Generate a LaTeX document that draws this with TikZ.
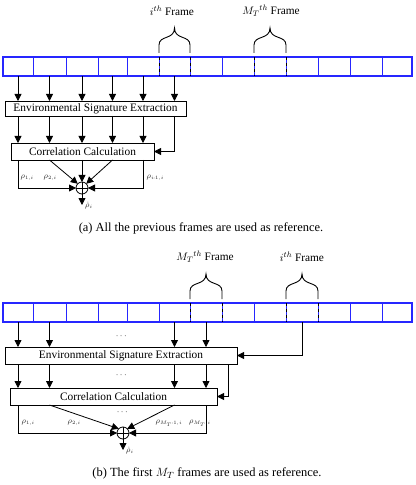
\documentclass[tikz,border=0pt]{standalone}
\usepackage{fontspec}
\setmainfont{Liberation Serif}
\usepackage{amsmath}
\usepackage{tikz}
\usetikzlibrary{arrows.meta,positioning,calc}

\newcommand{\boxfont}{\fontsize{11.4}{13}\selectfont}
\newcommand{\capfont}{\fontsize{12.5}{15}\selectfont}
\newcommand{\corr}[1]{$\rho_{\scriptscriptstyle #1}$}

\tikzset{
  cell/.style={draw=blue!85, line width=0.8bp, minimum height=19bp, inner sep=0pt, outer sep=0pt, anchor=west},
  stripedge/.style={draw=blue!85, line width=1.6bp},
  procbox/.style={draw, line width=0.9bp, inner sep=0pt, outer sep=0pt, font=\boxfont},
  arr/.style={-{Triangle[length=7bp,width=7bp]}, line width=0.8bp},
  sumnode/.style={draw, circle, minimum size=12bp, inner sep=0pt, outer sep=0pt, line width=0.8bp},
  rholabel/.style={font=\fontsize{8.5}{9}\selectfont, text=black!85, inner sep=0.5bp, anchor=west},
  dotlabel/.style={font=\fontsize{9}{9}\selectfont, inner sep=0pt},
  bracestyle/.style={line width=0.9bp},
}

% curly brace over a frame cell
\newcommand{\framebrace}[1]{%
  \draw[bracestyle] ([yshift=4bp]#1.north west) -- ([yshift=12bp]#1.north west)
    .. controls ([yshift=22bp]#1.north west) and ([yshift=17bp]#1.north) .. ([yshift=29bp]#1.north)
    .. controls ([yshift=17bp]#1.north) and ([yshift=22bp]#1.north east) .. ([yshift=12bp]#1.north east)
    -- ([yshift=4bp]#1.north east);
  \draw[dashed, line width=0.8bp] (#1.north west) -- (#1.south west) (#1.north east) -- (#1.south east);
}

\begin{document}
\begin{tikzpicture}[x=1bp, y=-1bp]
\useasboundingbox (0,0) rectangle (415,485);

% Frame strips
\foreach \l/\r [count=\k] in {3/33,33/66,66/98,98/127,127/159,159/190,190/222,222/254,254/286,286/318,318/350,350/382,382/412}
{
  \node[cell, minimum width={(\r-\l)*1bp}] (a\k) at (\l,66.5) {};
  \node[cell, minimum width={(\r-\l)*1bp}] (b\k) at (\l,312.5) {};
}
\draw[stripedge] (a1.north west) rectangle (a13.south east);
\draw[stripedge] (b1.north west) rectangle (b13.south east);

%%% (a) all previous frames
\node[font=\boxfont] (ilaba) at (172,11) {$i^{th}$ Frame};
\node[font=\boxfont] (mlaba) at (271,11) {$M_T{}^{th}$ Frame};
\framebrace{a6}
\framebrace{a9}

\node[procbox, minimum width=181bp, minimum height=15bp] (esea) at (95.5,108.5) {Environmental Signature Extraction};
\node[procbox, minimum width=143bp, minimum height=17bp] (cca) at (82.5,151.5) {Correlation Calculation};

\foreach \k in {1,...,6} \draw[arr] (a\k.south) -- (a\k.south |- esea.north);
\foreach \k in {1,...,5} \draw[arr] (a\k.south |- esea.south) -- (a\k.south |- cca.north);
\draw[arr] (a6.south |- esea.south) |- (cca.east);

% summation
\node[sumnode] (suma) at (a3.center |- 0,188) {};
\draw[line width=0.8bp] (suma.north) -- (suma.south) (suma.west) -- (suma.east);
\draw[arr] (a1.south |- cca.south) |- (suma.west);
\draw[arr] (a2.south |- cca.south) -- (suma.north west);
\draw[arr] (a3.south |- cca.south) -- (suma.north);
\draw[arr] (a4.south |- cca.south) -- (suma.north east);
\draw[arr] (a5.south |- cca.south) |- (suma.east);
\coordinate (outa) at (suma.south |- 0,205);
\draw[arr] (suma.south) -- (outa);
\node[rholabel, anchor=north west] (rhoa) at ([xshift=2.5bp,yshift=4bp]outa) {$\dot{\rho}_{\scriptscriptstyle i}$};

\node[rholabel] (r1a) at (20,178) {\corr{1,i}};
\node[rholabel] (r2a) at (43,178) {\corr{2,i}};
\node[rholabel] (r3a) at (146,178) {\corr{i\text{-}1,i}};

\node[font=\capfont] (capa) at (201,228) {(a) All the previous frames are used as reference.};

%%% (b) first M_T frames
\node[font=\boxfont] (mlabb) at (205,257) {$M_T{}^{th}$ Frame};
\node[font=\boxfont] (ilabb) at (302,257) {$i^{th}$ Frame};
\framebrace{b7}
\framebrace{b10}

\node[procbox, minimum width=232bp, minimum height=17bp] (eseb) at (121,355.5) {Environmental Signature Extraction};
\node[procbox, minimum width=207bp, minimum height=17bp] (ccb) at (113.5,396.5) {Correlation Calculation};

\foreach \k in {1,2,6,7} \draw[arr] (b\k.south) -- (b\k.south |- eseb.north);
\draw[arr] (b10.south) |- (eseb.east);
\foreach \k in {1,2,6,7} \draw[arr] (b\k.south |- eseb.south) -- (b\k.south |- ccb.north);
\draw[arr] ([xshift=-9bp]eseb.south east) |- (ccb.east);

\node[dotlabel] (dots1) at (122,336) {$\cdots$};
\node[dotlabel] (dots2) at (122,375) {$\cdots$};

% summation
\node[sumnode] (sumb) at (123,433) {};
\draw[line width=0.8bp] (sumb.north) -- (sumb.south) (sumb.west) -- (sumb.east);
\node[dotlabel] (dots3) at ([yshift=15bp]sumb.north) {$\cdots$};
\draw[arr] (b1.south |- ccb.south) |- (sumb.west);
\draw[arr] (b2.south |- ccb.south) -- (sumb.north west);
\draw[arr] (b6.south |- ccb.south) -- (sumb.north east);
\draw[arr] (b7.south |- ccb.south) |- (sumb.east);
\coordinate (outb) at (sumb.south |- 0,450);
\draw[arr] (sumb.south) -- (outb);
\node[rholabel, anchor=north west] (rhob) at ([xshift=2.5bp,yshift=4bp]outb) {$\dot{\rho}_{\scriptscriptstyle i}$};

\node[rholabel] (r1b) at (21,423) {\corr{1,i}};
\node[rholabel] (r2b) at (67,423) {\corr{2,i}};
\node[rholabel] (r3b) at (155,423) {\corr{M_T\text{-}1,i}};
\node[rholabel] (r4b) at (188.5,423) {\corr{M_T,i}};

\node[font=\capfont] (capb) at (207,473) {(b) The first $M_T$ frames are used as reference.};

\end{tikzpicture}
\end{document}
